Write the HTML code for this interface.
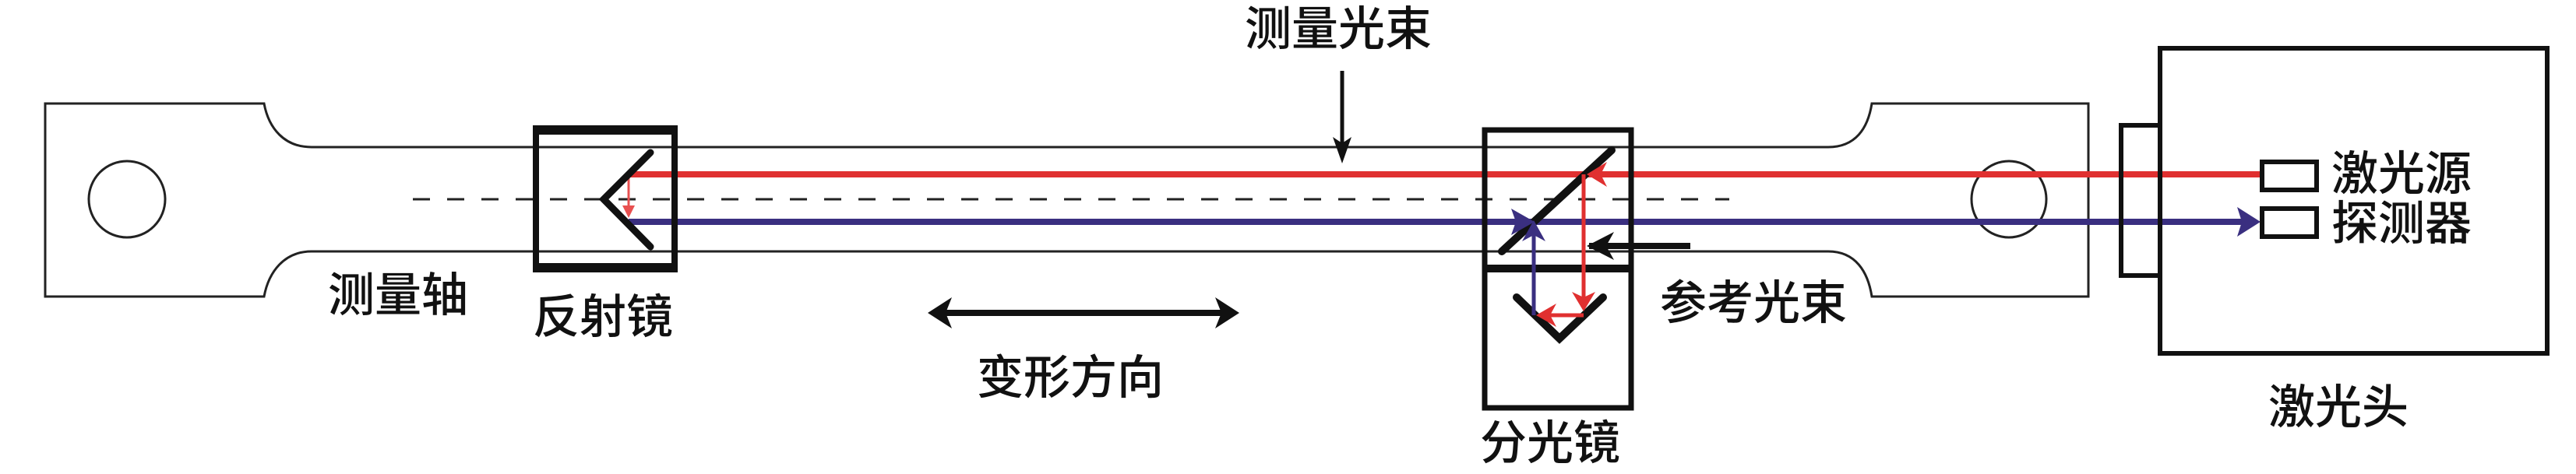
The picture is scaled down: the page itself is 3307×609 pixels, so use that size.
<!DOCTYPE html>
<html><head><meta charset="utf-8"><style>
html,body{margin:0;padding:0;background:#fff;}
svg{display:block;}
text{font-family:"Liberation Sans","Noto Sans CJK SC",sans-serif;font-size:60px;fill:#111;font-weight:500;}
</style></head><body>
<svg width="3307" height="609" viewBox="0 0 3307 609" xmlns="http://www.w3.org/2000/svg">
<!-- specimen -->
<path d="M58,133 H339 C345,165 365,189 400,189 H2347 C2382,189 2398,165 2403,133 H2681 V381 H2403 C2398,349 2382,323 2347,323 H400 C365,323 345,349 339,381 H58 Z" fill="none" stroke="#222" stroke-width="3"/>
<ellipse cx="163" cy="256" rx="49" ry="49" fill="none" stroke="#222" stroke-width="3"/>
<ellipse cx="2579" cy="256" rx="48" ry="49" fill="none" stroke="#222" stroke-width="3"/>
<line x1="530" y1="256" x2="2220" y2="256" stroke="#222" stroke-width="3" stroke-dasharray="22,22"/>
<!-- beams -->
<line x1="807" y1="224" x2="2902" y2="224" stroke="#e03030" stroke-width="8"/>
<line x1="807" y1="285" x2="2880" y2="285" stroke="#3a2f80" stroke-width="8"/>
<polygon points="2902,285 2872,266 2878,285 2872,304" fill="#3a2f80"/>
<line x1="807" y1="224" x2="807" y2="268" stroke="#e85050" stroke-width="3"/>
<polygon points="807,280 799,264 815,264" fill="#e85050"/>
<!-- reflector -->
<rect x="688" y="167" width="178" height="177" fill="none" stroke="#111" stroke-width="8"/>
<line x1="684" y1="167" x2="870" y2="167" stroke="#111" stroke-width="12"/>
<line x1="684" y1="344" x2="870" y2="344" stroke="#111" stroke-width="12"/>
<polyline points="835,196 775,256 835,317" fill="none" stroke="#111" stroke-width="9" stroke-linecap="round"/>
<!-- beam splitter -->
<rect x="1906" y="167" width="188" height="357" fill="none" stroke="#111" stroke-width="7"/>
<line x1="1903" y1="345" x2="2096" y2="345" stroke="#111" stroke-width="10"/>
<line x1="2069" y1="193" x2="1928" y2="323" stroke="#111" stroke-width="10" stroke-linecap="round"/>
<polyline points="1947,382 2002,435 2058,382" fill="none" stroke="#111" stroke-width="10" stroke-linecap="round"/>
<line x1="2033" y1="224" x2="2033" y2="385" stroke="#e03030" stroke-width="5"/>
<polygon points="2033,400 2018,375 2033,382 2048,375" fill="#e03030"/>
<line x1="2033" y1="405" x2="1985" y2="405" stroke="#e03030" stroke-width="5"/>
<polygon points="1972,405 1998,390 1990,405 1998,420" fill="#e03030"/>
<polygon points="2037,224 2063,208 2055,224 2063,240" fill="#e03030"/>
<line x1="1969" y1="405" x2="1969" y2="295" stroke="#3a2f80" stroke-width="5"/>
<polygon points="1969,283 1954,310 1969,302 1984,310" fill="#3a2f80"/>
<polygon points="1970,285 1940,268 1946,285 1940,302" fill="#3a2f80"/>
<!-- laser head -->
<rect x="2773" y="62" width="497" height="392" fill="none" stroke="#111" stroke-width="6"/>
<rect x="2723" y="161" width="50" height="193" fill="none" stroke="#111" stroke-width="6"/>
<rect x="2904" y="208" width="70" height="36" fill="none" stroke="#111" stroke-width="6"/>
<rect x="2904" y="268" width="70" height="36" fill="none" stroke="#111" stroke-width="6"/>
<!-- arrows -->
<line x1="1723" y1="91" x2="1723" y2="190" stroke="#111" stroke-width="5"/>
<polygon points="1723,210 1711,176 1723,184 1735,176" fill="#111"/>
<line x1="2170" y1="316" x2="2040" y2="316" stroke="#111" stroke-width="8"/>
<polygon points="2037,316 2072,298 2062,316 2072,334" fill="#111"/>
<line x1="1205" y1="402" x2="1577" y2="402" stroke="#111" stroke-width="8"/>
<polygon points="1191,402 1222,382 1214,402 1222,422" fill="#111"/>
<polygon points="1591,402 1560,382 1568,402 1560,422" fill="#111"/>
<!-- labels -->
<text x="421" y="400">测量轴</text>
<text x="684" y="428">反射镜</text>
<text x="1598" y="58">测量光束</text>
<text x="1254" y="506">变形方向</text>
<text x="1900" y="590">分光镜</text>
<text x="2131" y="410">参考光束</text>
<text x="2993" y="244">激光源</text>
<text x="2993" y="308">探测器</text>
<text x="2912" y="544">激光头</text>
</svg>
</body></html>
